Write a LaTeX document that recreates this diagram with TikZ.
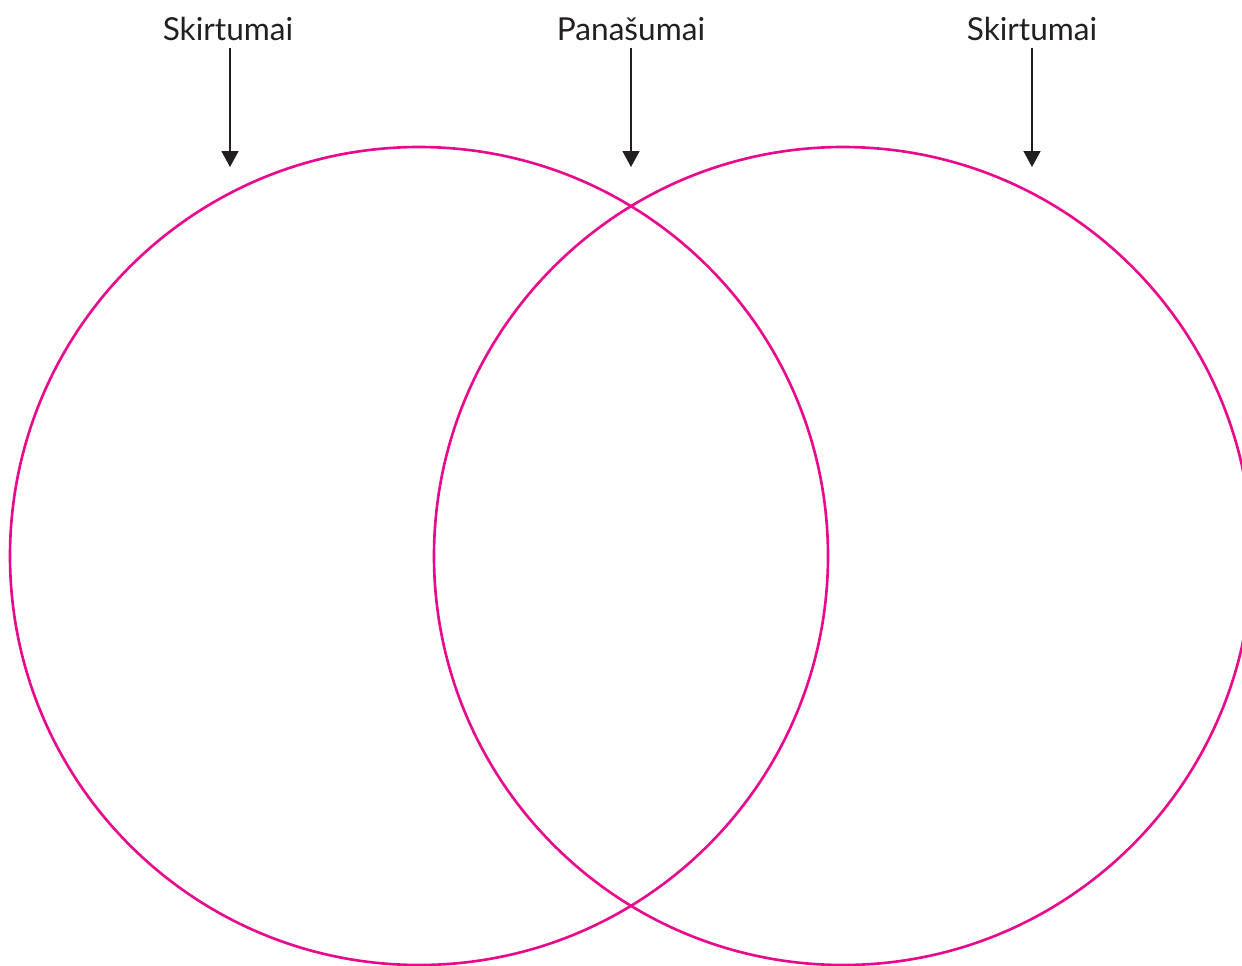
\documentclass[tikz,border=0pt]{standalone}
\usepackage{fontspec}
\setmainfont{Lato}
\usepackage{tikz}
\usetikzlibrary{arrows.meta, positioning}
\definecolor{vennpink}{RGB}{232, 10, 140}
\definecolor{arrowdark}{RGB}{35, 31, 32}

\begin{document}
\begin{tikzpicture}[x=0.02cm, y=-0.02cm,
    vennring/.style={line width=1.5pt, vennpink},
    toplabel/.style={font=\fontsize{18}{21}\selectfont, text=arrowdark, inner sep=0pt, anchor=base},
    pointer/.style={line width=0.9pt, arrowdark, -{Triangle[length=0.32cm, width=0.34cm]}, shorten <=4pt}]
  \useasboundingbox (0,0) rectangle (1242,965);
  \clip (0,0) rectangle (1242,965);
  % the two sets
  \draw[vennring] (419,556) circle (409);
  \draw[vennring] (843,556) circle (409);
  % labels above
  \node[toplabel] (leftdiff) at (228,40) {Skirtumai};
  \node[toplabel] (common) at (631,40) {Panašumai};
  \node[toplabel] (rightdiff) at (1032,40) {Skirtumai};
  \coordinate (leftend) at (230,167);
  \coordinate (commonend) at (631,167);
  \coordinate (rightend) at (1032,167);
  \draw[pointer] (leftdiff.south -| leftend) -- (leftend);
  \draw[pointer] (common.south) -- (commonend);
  \draw[pointer] (rightdiff.south) -- (rightend);
\end{tikzpicture}
\end{document}
